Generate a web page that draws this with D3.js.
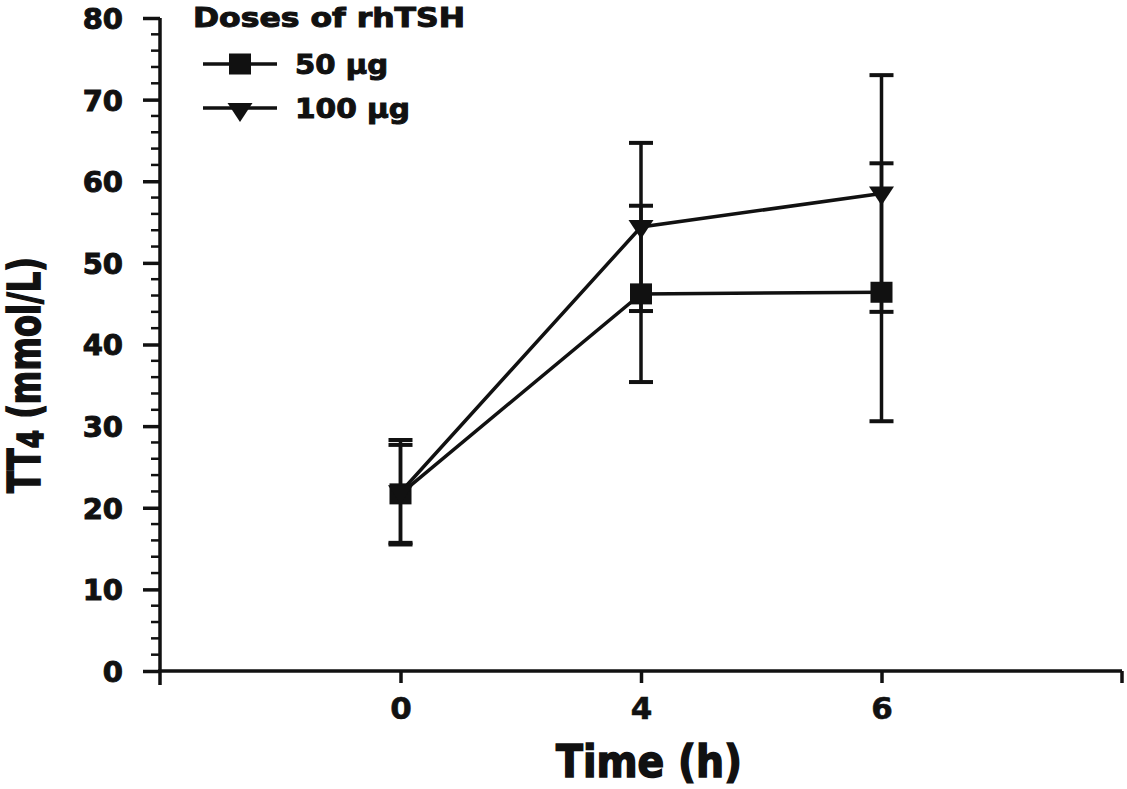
<!DOCTYPE html>
<html>
<head>
<meta charset="utf-8">
<script src="https://cdn.jsdelivr.net/npm/d3@7"></script>
<style>
  body { margin: 0; background: #fff; }
  text { font-family: "DejaVu Sans", "Liberation Sans", sans-serif; font-weight: bold; fill: #111; }
</style>
</head>
<body>
<div id="js_chart"></div>
<script>
// ******************************************************
// Data
// ******************************************************
const times = ["0", "4", "6"];
const dose50Mean = [21.7, 46.2, 46.4];
const dose50Err = [6.0, 10.8, 15.8];
const dose100Mean = [21.9, 54.4, 58.5];
const dose100Err = [6.4, 10.3, 14.5];
const seriesNames = ["50 µg", "100 µg"];
const yTicks = [0, 10, 20, 30, 40, 50, 60, 70, 80];

// ******************************************************
// Settings
// ******************************************************
const width = 1127, height = 789;
const plotLeft = 160, plotRight = 1122, plotTop = 18, plotBottom = 671;
const ink = "#111";

const x = d3.scalePoint().domain(times).range([plotLeft, plotRight]).padding(1);
const y = d3.scaleLinear().domain([0, 80]).range([plotBottom, plotTop]);

const svg = d3.select("#js_chart").append("svg")
    .attr("width", width)
    .attr("height", height);

// ******************************************************
// Axes
// ******************************************************
const yAxis = svg.append("g")
    .attr("transform", "translate(" + plotLeft + ",0)")
    .call(d3.axisLeft(y).tickValues(yTicks).tickSize(17).tickSizeOuter(0).tickPadding(20));
yAxis.attr("font-family", null);
yAxis.select(".domain").remove();
yAxis.selectAll("line").attr("stroke", ink).attr("stroke-width", 3.5);
yAxis.selectAll("text")
    .attr("font-size", 29)
    .attr("stroke", ink).attr("stroke-width", 1)
    .attr("dy", "0.36em");

// minor ticks every 2
svg.append("g").selectAll("line")
    .data(d3.range(0, 81, 2).filter(v => v % 10 !== 0))
    .enter().append("line")
    .attr("x1", plotLeft - 9).attr("x2", plotLeft)
    .attr("y1", d => y(d)).attr("y2", d => y(d))
    .attr("stroke", ink).attr("stroke-width", 2.5);

// axis lines
svg.append("line")
    .attr("x1", plotLeft).attr("x2", plotLeft)
    .attr("y1", plotTop).attr("y2", plotBottom + 14)
    .attr("stroke", ink).attr("stroke-width", 3.5);
svg.append("line")
    .attr("x1", plotLeft - 2).attr("x2", plotRight)
    .attr("y1", plotBottom).attr("y2", plotBottom)
    .attr("stroke", ink).attr("stroke-width", 3.5);

const xAxis = svg.append("g")
    .attr("transform", "translate(0," + plotBottom + ")")
    .call(d3.axisBottom(x).tickSize(12).tickSizeOuter(0).tickPadding(14));
xAxis.attr("font-family", null);
xAxis.select(".domain").remove();
xAxis.selectAll("line").attr("stroke", ink).attr("stroke-width", 3.5);
xAxis.selectAll("text")
    .attr("font-size", 31)
    .attr("stroke", ink).attr("stroke-width", 0.6);
// end tick on the right
svg.append("line")
    .attr("x1", plotRight).attr("x2", plotRight)
    .attr("y1", plotBottom).attr("y2", plotBottom + 12)
    .attr("stroke", ink).attr("stroke-width", 3.5);

// titles
svg.append("text")
    .attr("x", 649).attr("y", 777)
    .attr("text-anchor", "middle")
    .attr("font-size", 44)
    .attr("stroke", ink).attr("stroke-width", 1.6)
    .attr("textLength", 186).attr("lengthAdjust", "spacingAndGlyphs")
    .text("Time (h)");

const yTitle = svg.append("text")
    .attr("transform", "translate(40,493) rotate(-90)")
    .attr("font-size", 44)
    .attr("stroke", ink).attr("stroke-width", 1.6)
    .attr("textLength", 236).attr("lengthAdjust", "spacingAndGlyphs");
yTitle.append("tspan").text("TT");
yTitle.append("tspan").attr("font-size", 36).attr("dy", 3).text("4");
yTitle.append("tspan").attr("dy", -3).text(" (mmol/L)");

// ******************************************************
// Series
// ******************************************************
const series = [
    {name: seriesNames[0], mean: dose50Mean, err: dose50Err, shape: "square"},
    {name: seriesNames[1], mean: dose100Mean, err: dose100Err, shape: "triangle"}
];

function drawMarker(g, shape, cx, cy) {
    if (shape === "square") {
        g.append("rect")
            .attr("x", cx - 11).attr("y", cy - 10.5)
            .attr("width", 22).attr("height", 21)
            .attr("fill", ink);
    } else {
        g.append("path")
            .attr("d", "M" + (cx - 12.5) + "," + (cy - 7) + "L" + (cx + 12.5) + "," + (cy - 7) + "L" + cx + "," + (cy + 12) + "Z")
            .attr("fill", ink);
    }
}

const line = d3.line()
    .x((d, i) => x(times[i]))
    .y(d => y(d));

series.forEach(s => {
    const g = svg.append("g");
    // error bars
    times.forEach((t, i) => {
        const hi = s.mean[i] + s.err[i], lo = s.mean[i] - s.err[i];
        g.append("line")
            .attr("x1", x(t)).attr("x2", x(t))
            .attr("y1", y(hi)).attr("y2", y(lo))
            .attr("stroke", ink).attr("stroke-width", 3.5);
        [hi, lo].forEach(v => {
            g.append("line")
                .attr("x1", x(t) - 12).attr("x2", x(t) + 12)
                .attr("y1", y(v)).attr("y2", y(v))
                .attr("stroke", ink).attr("stroke-width", 4);
        });
    });
    g.append("path")
        .datum(s.mean)
        .attr("d", line)
        .attr("fill", "none")
        .attr("stroke", ink)
        .attr("stroke-width", 3.5);
});
series.forEach(s => {
    const g = svg.append("g");
    times.forEach((t, i) => drawMarker(g, s.shape, x(t), y(s.mean[i])));
});

// ******************************************************
// Legend
// ******************************************************
const legend = svg.append("g");
legend.append("text")
    .attr("x", 193).attr("y", 27)
    .attr("font-size", 26)
    .attr("stroke", ink).attr("stroke-width", 1)
    .attr("textLength", 272).attr("lengthAdjust", "spacingAndGlyphs")
    .text("Doses of rhTSH");

const legendRows = [64, 108];
series.forEach((s, i) => {
    const ly = legendRows[i];
    legend.append("line")
        .attr("x1", 203).attr("x2", 277)
        .attr("y1", ly).attr("y2", ly)
        .attr("stroke", ink).attr("stroke-width", 3.5);
    drawMarker(legend, s.shape, 240, ly + (s.shape === "square" ? 0 : 2));
    legend.append("text")
        .attr("x", 295).attr("y", ly + 10)
        .attr("font-size", 27)
        .attr("stroke", ink).attr("stroke-width", 1)
        .attr("textLength", i === 0 ? 93 : 115).attr("lengthAdjust", "spacingAndGlyphs")
        .text(s.name);
});
</script>
</body>
</html>
